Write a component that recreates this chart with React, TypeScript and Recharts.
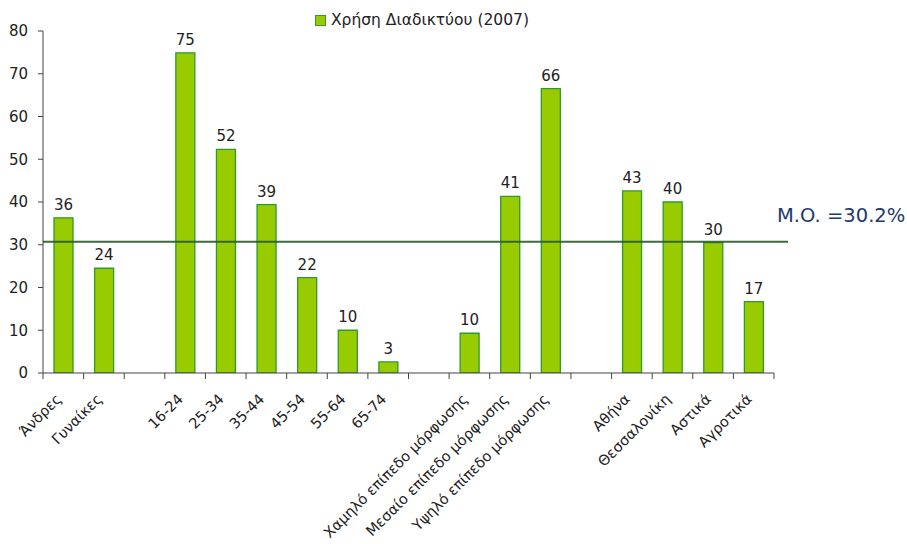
import React from 'react';
import { BarChart, Bar, XAxis, YAxis, ReferenceLine, LabelList, Legend } from 'recharts';

// categories (empty strings are the gaps between groups)
const categories = [
  'Άνδρες', 'Γυναίκες', '',
  '16-24', '25-34', '35-44', '45-54', '55-64', '65-74', '',
  'Χαμηλό επίπεδο μόρφωσης', 'Μεσαίο επίπεδο μόρφωσης', 'Υψηλό επίπεδο μόρφωσης', '',
  'Αθήνα', 'Θεσσαλονίκη', 'Αστικά', 'Αγροτικά',
];
const usage = [36.3, 24.5, null, 74.9, 52.3, 39.4, 22.3, 10.0, 2.6, null, 9.3, 41.3, 66.5, null, 42.6, 40.0, 30.5, 16.7];
const usageLabels = ['36', '24', '', '75', '52', '39', '22', '10', '3', '', '10', '41', '66', '', '43', '40', '30', '17'];
const yTicks = [0, 10, 20, 30, 40, 50, 60, 70, 80];
const seriesName = 'Χρήση Διαδικτύου (2007)';
const meanValue = 30.7;
const meanLabel = 'M.O. =30.2%';

const chartData = categories.map((name, i) => ({ name, value: usage[i], label: usageLabels[i] }));

const W = 907;
const H = 544;
const PLOT_LEFT = 43;
const PLOT_RIGHT = 774;
const BAND = (PLOT_RIGHT - PLOT_LEFT) / categories.length;
const FONT = '"DejaVu Sans", Verdana, sans-serif';
const TEXT = '#222';
const AXIS = '#444';

const XTick = (props: any) => {
  const { x, y, payload, index } = props;
  const half = BAND / 2;
  const ax = x - 1;
  const ay = y + 27;
  return (
    <g>
      <line x1={x - half} y1={y} x2={x - half} y2={y + 6} stroke={AXIS} />
      {index === categories.length - 1 && (
        <line x1={x + half} y1={y} x2={x + half} y2={y + 6} stroke={AXIS} />
      )}
      <text
        x={ax}
        y={ay}
        textAnchor="end"
        transform={`rotate(-45, ${ax}, ${ay})`}
        fontSize={14.5}
        fontFamily={FONT}
        fill={TEXT}
      >
        {payload.value}
      </text>
    </g>
  );
};

const MeanLine = (props: any) => {
  const { x1, y1, x2, y2 } = props;
  return (
    <g>
      <line x1={x1} y1={y1} x2={x2 + 14} y2={y2} stroke="#2a5a2a" strokeWidth={2} strokeOpacity={0.9} />
      <text x={x2 + 3} y={y1 - 20} fontSize={19.5} fontFamily={FONT} fill="#1f3a6e">
        {meanLabel}
      </text>
    </g>
  );
};

const LegendContent = () => (
  <div style={{ display: 'flex', alignItems: 'center', fontFamily: FONT, fontSize: 15.5, color: TEXT, whiteSpace: 'nowrap' }}>
    <span
      style={{
        display: 'inline-block',
        width: 9,
        height: 9,
        background: '#99cc00',
        border: '1px solid #339933',
        marginRight: 5,
      }}
    />
    {seriesName}
  </div>
);

export default function App() {
  return (
    <div style={{ position: 'absolute', left: 0, top: 0, width: W, height: H, background: '#fff' }}>
      <BarChart
        width={W}
        height={H}
        data={chartData}
        margin={{ top: 31, right: W - PLOT_RIGHT, bottom: 0, left: 0 }}
        barCategoryGap={0}
      >
        <Legend
          layout="horizontal"
          verticalAlign="middle"
          align="center"
          content={<LegendContent />}
          wrapperStyle={{ top: 11, left: 315, width: 'auto' }}
        />
        <YAxis
          width={PLOT_LEFT}
          domain={[0, 80]}
          ticks={yTicks}
          interval={0}
          tickSize={5}
          tickMargin={10}
          stroke={AXIS}
          tick={{ fill: TEXT, fontSize: 15, fontFamily: FONT }}
          allowDataOverflow
        />
        <XAxis
          dataKey="name"
          height={171}
          interval={0}
          tickLine={false}
          tickSize={0}
          tickMargin={0}
          stroke={AXIS}
          tick={<XTick />}
        />
        <Bar
          dataKey="value"
          name={seriesName}
          fill="#99cc00"
          stroke="#2f9a2f"
          strokeWidth={1.3}
          barSize={19}
          isAnimationActive={false}
        >
          <LabelList dataKey="label" position="top" offset={8} fontSize={15} fontFamily={FONT} fill={TEXT} />
        </Bar>
        <ReferenceLine y={meanValue} shape={<MeanLine />} ifOverflow="visible" />
      </BarChart>
    </div>
  );
}
